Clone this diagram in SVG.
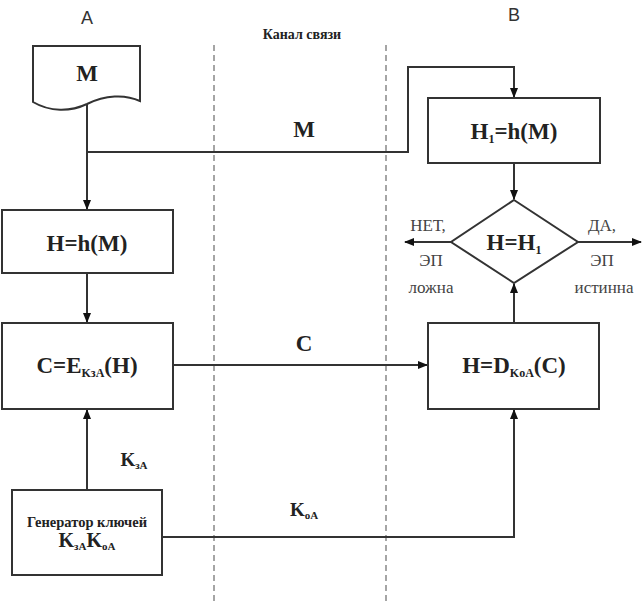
<svg xmlns="http://www.w3.org/2000/svg" width="643" height="602" viewBox="0 0 643 602">
<style>
.box{fill:#fff;stroke:#333;stroke-width:2}
.ln{fill:none;stroke:#333;stroke-width:2}
.dash{fill:none;stroke:#888;stroke-width:1.5;stroke-dasharray:6 4}
.t{font-family:'Liberation Serif','DejaVu Serif',serif;font-weight:bold;fill:#222;text-anchor:middle}
.r{font-family:'Liberation Serif','DejaVu Serif',serif;fill:#444;text-anchor:middle;font-size:17px}
.s{font-family:'Liberation Sans',Arial,sans-serif;fill:#333;text-anchor:middle;font-size:18px}
</style>
<defs>
<marker id="ah" markerWidth="10" markerHeight="10" refX="9" refY="5" orient="auto" markerUnits="userSpaceOnUse">
<path d="M0,1 L10,5 L0,9 Z" fill="#111"/>
</marker>
</defs>
<rect width="643" height="602" fill="#fff"/>
<text class="s" x="87" y="24">A</text>
<text class="s" x="514" y="21">B</text>
<text class="t" x="302" y="39" font-size="14">Канал связи</text>
<g id="channel">
<line class="dash" x1="214" y1="45" x2="214" y2="602"/>
<line class="dash" x1="386" y1="45" x2="386" y2="602"/>
</g>
<g id="connectors">
<path class="ln" d="M87,104 V209" marker-end="url(#ah)"/>
<path class="ln" d="M87,152 H408 V67 H514 V97" marker-end="url(#ah)"/>
<path class="ln" d="M514,163 V199" marker-end="url(#ah)"/>
<path class="ln" d="M87,273 V322" marker-end="url(#ah)"/>
<path class="ln" d="M173,365 H427" marker-end="url(#ah)"/>
<path class="ln" d="M514,323 V284" marker-end="url(#ah)"/>
<path class="ln" d="M451,242 H405" marker-end="url(#ah)"/>
<path class="ln" d="M578,242 H641" marker-end="url(#ah)"/>
<path class="ln" d="M87,490 V410" marker-end="url(#ah)"/>
<path class="ln" d="M162,537 H514 V410" marker-end="url(#ah)"/>
<text class="t" x="304" y="137" font-size="23">M</text>
<text class="t" x="304" y="351" font-size="23">C</text>
<text class="t" x="134" y="466" font-size="19">K<tspan font-size="11" dy="3">зА</tspan></text>
<text class="t" x="304" y="516" font-size="19">K<tspan font-size="11" dy="3">оА</tspan></text>
<text class="r" x="428" y="231">НЕТ,</text>
<text class="r" x="431" y="266">ЭП</text>
<text class="r" x="431" y="293">ложна</text>
<text class="r" x="602" y="231">ДА,</text>
<text class="r" x="602" y="266">ЭП</text>
<text class="r" x="604" y="293">истинна</text>
</g>
<g id="doc-M">
<path class="box" d="M33,46 H140 V101 C125,94 105,95 87,104 C70,112 50,112 33,102 Z"/>
<text class="t" x="87" y="81" font-size="23">M</text>
</g>
<g id="box-Hh">
<rect class="box" x="2" y="210" width="171" height="63"/>
<text class="t" x="87" y="251" font-size="23">H=h(M)</text>
</g>
<g id="box-C">
<rect class="box" x="2" y="323" width="171" height="86"/>
<text class="t" x="87" y="373" font-size="23">C=E<tspan font-size="12" dy="4">KзА</tspan><tspan dy="-4">(H)</tspan></text>
</g>
<g id="box-gen">
<rect class="box" x="12" y="490" width="150" height="85"/>
<text class="t" x="87" y="527" font-size="14.5">Генератор ключей</text>
<text class="t" x="87" y="547" font-size="20">K<tspan font-size="11" dy="3">зА</tspan><tspan dy="-3">K</tspan><tspan font-size="11" dy="3">оА</tspan></text>
</g>
<g id="box-H1">
<rect class="box" x="428" y="98" width="172" height="65"/>
<text class="t" x="514" y="139" font-size="23">H<tspan font-size="12" dy="4">1</tspan><tspan dy="-4">=h(M)</tspan></text>
</g>
<g id="diamond">
<path class="box" d="M514,200 L578,242 L514,283 L451,242 Z"/>
<text class="t" x="514" y="250" font-size="23">H=H<tspan font-size="12" dy="4">1</tspan></text>
</g>
<g id="box-HD">
<rect class="box" x="428" y="323" width="171" height="86"/>
<text class="t" x="514" y="373" font-size="23">H=D<tspan font-size="12" dy="4">KоА</tspan><tspan dy="-4">(C)</tspan></text>
</g>
</svg>
